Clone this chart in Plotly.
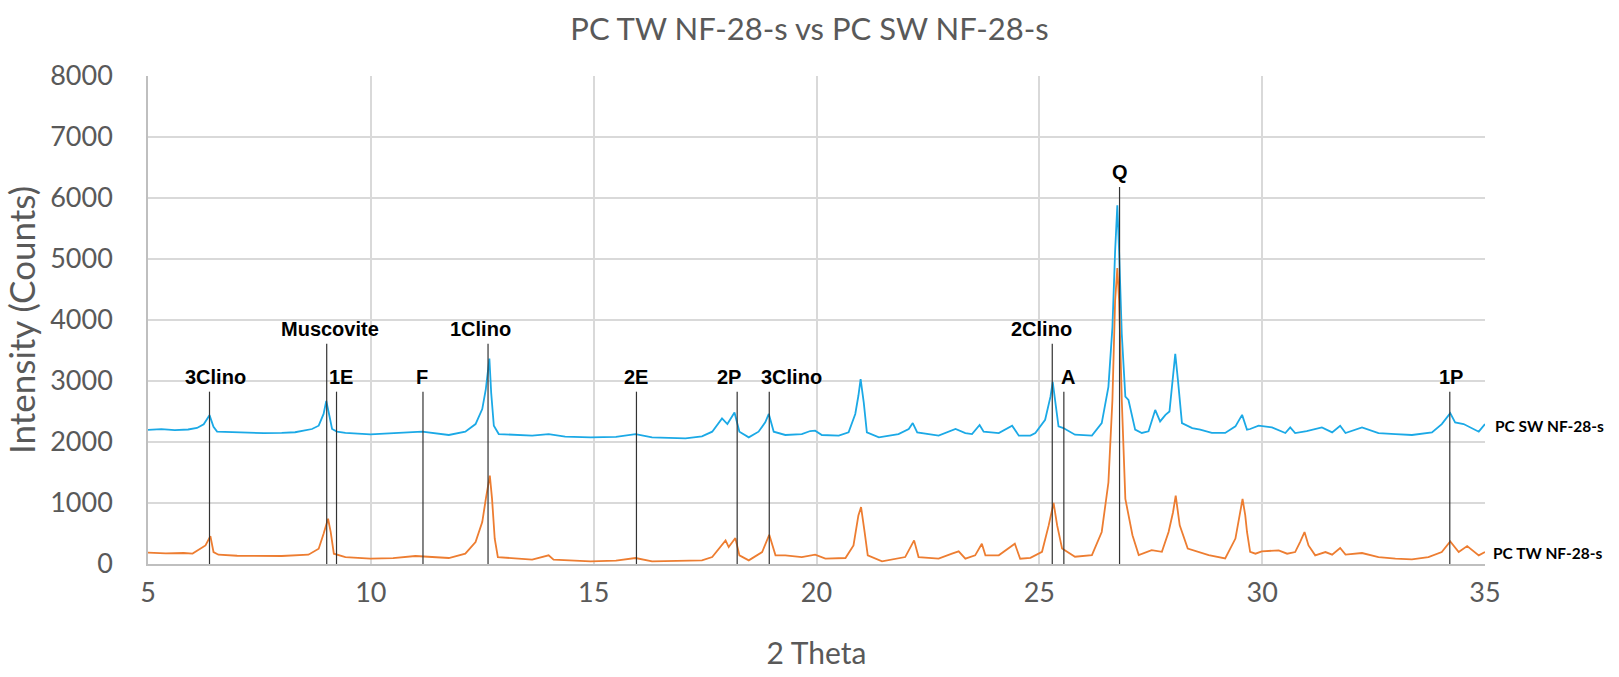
import plotly.graph_objects as go

# ---- data ----
x_sw = [5.0, 5.3, 5.6, 5.9, 6.1, 6.25, 6.38, 6.47, 6.55, 6.8, 7.2, 7.6, 8.0, 8.3, 8.68, 8.83, 8.94, 9.0,
        9.07, 9.13, 9.24, 9.43, 9.99, 10.63, 11.15, 11.75, 12.12, 12.35, 12.5, 12.58, 12.66, 12.7, 12.76,
        12.87, 13.62, 13.99, 14.36, 14.93, 15.5, 15.94, 16.31, 17.06, 17.43, 17.66, 17.88, 18.0, 18.16,
        18.27, 18.48, 18.7, 18.85, 18.93, 19.04, 19.3, 19.67, 19.86, 19.97, 20.12, 20.5, 20.72, 20.87,
        20.94, 20.99, 21.06, 21.13, 21.4, 21.84, 22.07, 22.16, 22.26, 22.74, 23.12, 23.34, 23.49, 23.66,
        23.75, 24.09, 24.39, 24.54, 24.8, 24.91, 25.13, 25.25, 25.3, 25.37, 25.43, 25.54, 25.8, 26.18,
        26.4, 26.55, 26.64, 26.7, 26.75, 26.79, 26.85, 26.93, 27.0, 27.15, 27.3, 27.45, 27.6, 27.71,
        27.83, 27.92, 27.99, 28.05, 28.11, 28.2, 28.43, 28.61, 28.87, 29.17, 29.4, 29.55, 29.66, 29.73,
        29.92, 30.22, 30.52, 30.63, 30.74, 31.0, 31.34, 31.57, 31.75, 31.87, 32.24, 32.61, 32.99, 33.36,
        33.81, 34.03, 34.22, 34.33, 34.52, 34.71, 34.86, 35.0]
y_sw = [2200, 2210, 2195, 2205, 2230, 2290, 2440, 2250, 2170, 2165, 2150, 2145, 2150, 2160, 2213, 2267, 2460, 2675,
        2430, 2213, 2170, 2150, 2125, 2147, 2169, 2115, 2169, 2294, 2540, 2867, 3368, 2812, 2267,
        2130, 2104, 2130, 2087, 2076, 2085, 2130, 2076, 2060, 2093, 2169, 2387, 2294, 2485,
        2169, 2076, 2169, 2322, 2460, 2169, 2115, 2130, 2180, 2185, 2115, 2104, 2158, 2460,
        2758, 3030, 2649, 2158, 2076, 2130, 2213, 2311, 2158, 2104, 2213, 2147, 2130, 2278,
        2169, 2147, 2267, 2104, 2104, 2148, 2364, 2743, 2986, 2580, 2256, 2229, 2120, 2104,
        2310, 2905, 3879, 5123, 5881, 5123, 3771, 2743, 2689, 2202, 2148, 2175, 2526, 2337,
        2445, 2499, 3013, 3446, 3013, 2310, 2229, 2202, 2148, 2148, 2256, 2445, 2202, 2213,
        2267, 2240, 2147, 2240, 2147, 2180, 2240, 2158, 2267, 2147, 2240, 2147, 2130, 2115,
        2158, 2294, 2474, 2322, 2294, 2224, 2169, 2294]

x_tw = [5.0, 5.4, 5.8, 6.0, 6.29, 6.4, 6.47, 6.58, 7.0, 7.5, 8.0, 8.6, 8.83, 8.94, 9.04, 9.1, 9.17, 9.43,
        9.99, 10.5, 11.0, 11.75, 12.12, 12.35, 12.5, 12.58, 12.67, 12.72, 12.78, 12.85, 13.62, 13.99, 14.1,
        14.93, 15.5, 15.94, 16.31, 17.43, 17.66, 17.96, 18.03, 18.18, 18.27, 18.48, 18.78, 18.94, 19.08,
        19.3, 19.67, 19.97, 20.2, 20.65, 20.83, 20.94, 21.0, 21.08, 21.15, 21.47, 21.99, 22.13, 22.19,
        22.29, 22.74, 23.04, 23.19, 23.34, 23.56, 23.71, 23.79, 24.09, 24.31, 24.45, 24.57, 24.8, 25.06,
        25.21, 25.32, 25.4, 25.51, 25.8, 26.18, 26.4, 26.55, 26.64, 26.7, 26.75, 26.79, 26.85, 26.93,
        27.02, 27.09, 27.23, 27.52, 27.75, 27.9, 28.0, 28.06, 28.15, 28.33, 28.8, 29.17, 29.4, 29.51,
        29.56, 29.62, 29.66, 29.73, 29.85, 29.99, 30.37, 30.56, 30.74, 30.85, 30.95, 31.04, 31.19, 31.42,
        31.57, 31.75, 31.87, 32.24, 32.61, 32.99, 33.36, 33.73, 34.03, 34.22, 34.41, 34.6, 34.86, 35.0]
y_tw = [185, 175, 180, 170, 305, 458, 196, 153, 135, 128, 131, 153, 250, 496, 741, 523, 169, 114,
        87, 95, 131, 98, 169, 360, 687, 1068, 1450, 1068, 414, 114, 71, 142, 71,
        44, 55, 98, 44, 60, 114, 387, 278, 425, 142, 60, 196, 480, 142,
        142, 114, 153, 87, 98, 305, 796, 932, 523, 142, 44, 114, 305, 387,
        114, 87, 169, 207, 87, 142, 332, 142, 142, 262, 332, 87, 100, 200,
        633, 1001, 633, 254, 119, 146, 525, 1336, 2689, 4312, 4850, 4312, 2689, 1066,
        741, 471, 146, 227, 200, 525, 849, 1120, 633, 254, 146, 92, 417, 903,
        1066, 800, 525, 200, 169, 207, 224, 169, 196, 360, 523, 305, 142, 196,
        153, 262, 153, 180, 114, 87, 76, 114, 196, 371, 196, 294, 142, 196]

peak_labels = ["3Clino", "Muscovite", "1E", "F", "1Clino", "2E", "2P", "3Clino", "2Clino", "A", "Q", "1P"]
peak_pos = [6.38, 9.01, 9.23, 11.17, 12.63, 15.96, 18.22, 18.94, 25.29, 25.55, 26.80, 34.21]
peak_top = [2825, 3610, 2825, 2825, 3610, 2825, 2825, 2825, 3610, 2825, 6180, 2825]

series_names = ["PC SW NF-28-s", "PC TW NF-28-s"]
x_ticks = [5, 10, 15, 20, 25, 30, 35]
y_ticks = [0, 1000, 2000, 3000, 4000, 5000, 6000, 7000, 8000]

# ---- styles ----
label_xshift = [6, 3, 4, -1, -8, 0, -8, 22, -11, 4, 0, 1]
BLUE = "#1BA9E6"
ORANGE = "#ED7D31"
GRID = "#D9D9D9"
TXT = "#595959"
FONT = "Lato"

fig = go.Figure()
fig.add_trace(go.Scatter(x=x_sw, y=y_sw, mode="lines", line=dict(color=BLUE, width=1.8),
                         name=series_names[0], showlegend=False))
fig.add_trace(go.Scatter(x=x_tw, y=y_tw, mode="lines", line=dict(color=ORANGE, width=1.8),
                         name=series_names[1], showlegend=False))

for i, (lab, px, top) in enumerate(zip(peak_labels, peak_pos, peak_top)):
    fig.add_trace(go.Scatter(x=[px, px], y=[0, top], mode="lines",
                             line=dict(color="#333333", width=1.2), showlegend=False, hoverinfo="skip"))
    fig.add_annotation(x=px, y=top, xref="x", yref="y", text="<b>" + lab + "</b>", showarrow=False,
                       yanchor="middle", yshift=15, xshift=label_xshift[i],
                       font=dict(family="Liberation Sans, Arial", size=20, color="#000000"))

fig.add_annotation(x=35, y=2256, xref="x", yref="y", text="<b>" + series_names[0] + "</b>", showarrow=False,
                   xanchor="left", xshift=8, font=dict(family=FONT, size=15.5, color="#000000"))
fig.add_annotation(x=35, y=178, xref="x", yref="y", text="<b>" + series_names[1] + "</b>", showarrow=False,
                   xanchor="left", xshift=6, font=dict(family=FONT, size=15.5, color="#000000"))

fig.update_layout(
    width=1619, height=677,
    margin=dict(l=148, r=134, t=76, b=108),
    paper_bgcolor="white", plot_bgcolor="white",
    title=dict(text="PC TW NF-28-s vs PC SW NF-28-s", x=0.5, xanchor="center", y=0.957, yanchor="middle",
               font=dict(family=FONT, size=31, color=TXT)),
    font=dict(family=FONT, color=TXT),
)
fig.update_xaxes(range=[5, 35], tickvals=x_ticks, ticktext=[str(v) for v in x_ticks],
                 showgrid=True, gridcolor=GRID, gridwidth=1.5,
                 showline=True, linecolor="#BFBFBF", linewidth=1.5, zeroline=False,
                 ticks="", ticklabelstandoff=4, tickfont=dict(family=FONT, size=27, color=TXT),
                 title=dict(text="2 Theta", font=dict(family=FONT, size=30, color=TXT), standoff=36))
fig.update_yaxes(range=[0, 8000], tickvals=y_ticks, ticktext=[str(v) for v in y_ticks],
                 showgrid=True, gridcolor=GRID, gridwidth=1.5,
                 showline=True, linecolor="#BFBFBF", linewidth=1.5, zeroline=False,
                 ticks="", ticklabelstandoff=28, tickfont=dict(family=FONT, size=27, color=TXT),
                 title=dict(text="Intensity (Counts)", font=dict(family=FONT, size=35, color=TXT), standoff=8))

fig.write_html("out.html")
